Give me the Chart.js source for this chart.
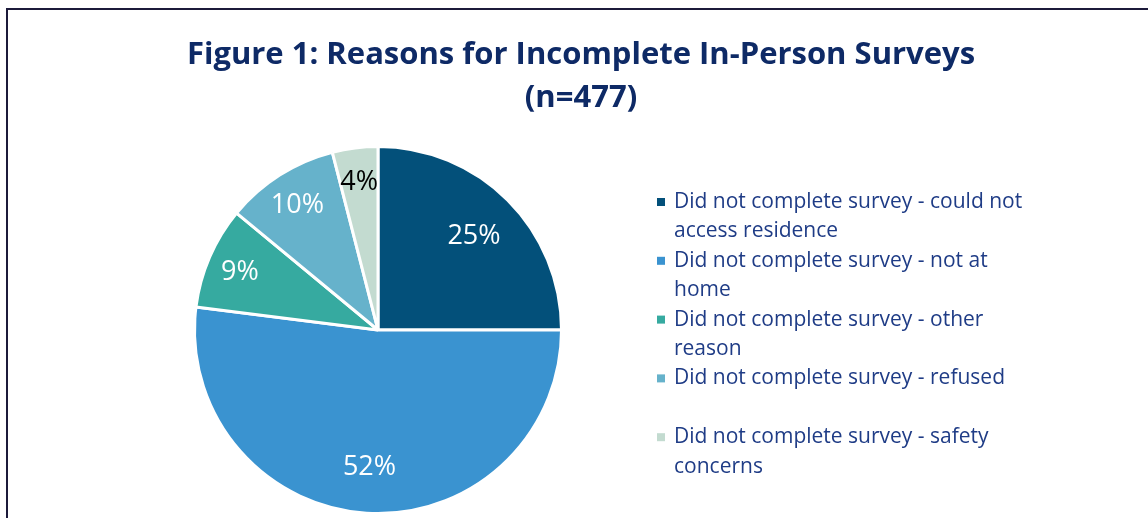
<!DOCTYPE html>
<html>
<head>
<meta charset="utf-8">
<script src="https://cdn.jsdelivr.net/npm/chart.js@4/dist/chart.umd.min.js"></script>
<style>
  html, body { margin: 0; padding: 0; background: #fff; }
  #wrap { position: relative; width: 1148px; height: 518px; }
</style>
</head>
<body>
<div id="wrap"><canvas id="chart" width="1148" height="518"></canvas></div>
<script>
// survey outcome categories and their share (%) of n=477
var reasons = [
  ['Did not complete survey - could not', 'access residence'],
  ['Did not complete survey - not at', 'home'],
  ['Did not complete survey - other', 'reason'],
  ['Did not complete survey - refused'],
  ['Did not complete survey - safety', 'concerns']
];
var shares = [25, 52, 9, 10, 4];
var sliceColors = ['#03507a', '#3a93d0', '#36aaa0', '#66b2cb', '#c3dbd0'];
var labelColors = ['#ffffff', '#ffffff', '#ffffff', '#ffffff', '#000000'];
var titleLines = ['Figure 1: Reasons for Incomplete In-Person Surveys', '(n=477)'];

// frame, title, percentage labels and the side legend
var decorations = {
  id: 'decorations',
  beforeDraw(chart) {
    var ctx = chart.ctx;
    ctx.save();
    ctx.strokeStyle = '#1c1a3a';
    ctx.lineWidth = 2;
    ctx.beginPath();
    ctx.moveTo(7, 518);
    ctx.lineTo(7, 9);
    ctx.lineTo(1148, 9);
    ctx.stroke();
    ctx.restore();
  },
  afterDraw(chart) {
    var ctx = chart.ctx;
    ctx.save();

    // title
    ctx.fillStyle = '#0e2a66';
    ctx.font = 'bold 31px "Open Sans"';
    ctx.textAlign = 'center';
    ctx.textBaseline = 'middle';
    titleLines.forEach(function (t, i) {
      ctx.fillText(t, 581, 55 + i * 43);
    });

    // percentage labels inside the slices
    var meta = chart.getDatasetMeta(0);
    ctx.font = '27px "Open Sans"';
    meta.data.forEach(function (arc, i) {
      var p = arc.getProps(['x', 'y', 'startAngle', 'endAngle', 'outerRadius']);
      var mid = (p.startAngle + p.endAngle) / 2;
      var k = shares[i] >= 20 ? 0.74 : 0.82;
      ctx.fillStyle = labelColors[i];
      ctx.fillText(shares[i] + '%', p.x + Math.cos(mid) * p.outerRadius * k,
                   p.y + Math.sin(mid) * p.outerRadius * k + 2);
    });

    // legend: each entry gets two text rows
    var lx = 657, tx = 674, y0 = 202, row = 29.4;
    ctx.font = '21px "Open Sans"';
    ctx.textAlign = 'left';
    reasons.forEach(function (lines, i) {
      var y = y0 + i * row * 2;
      ctx.fillStyle = sliceColors[i];
      ctx.fillRect(lx, y - 4, 8, 8);
      ctx.fillStyle = '#1f3c86';
      lines.forEach(function (t, j) {
        ctx.fillText(t, tx, y + j * row);
      });
    });
    ctx.restore();
  }
};

new Chart('chart', {
  type: 'pie',
  data: {
    labels: reasons.map(function (r) { return r.join(' '); }),
    datasets: [{
      data: shares,
      backgroundColor: sliceColors,
      borderColor: '#ffffff',
      borderWidth: 3
    }]
  },
  options: {
    responsive: false,
    animation: false,
    layout: { padding: { left: 193, right: 585, top: 145, bottom: 3 } },
    plugins: {
      legend: { display: false },
      tooltip: { enabled: false }
    }
  },
  plugins: [decorations]
});
</script>
</body>
</html>
